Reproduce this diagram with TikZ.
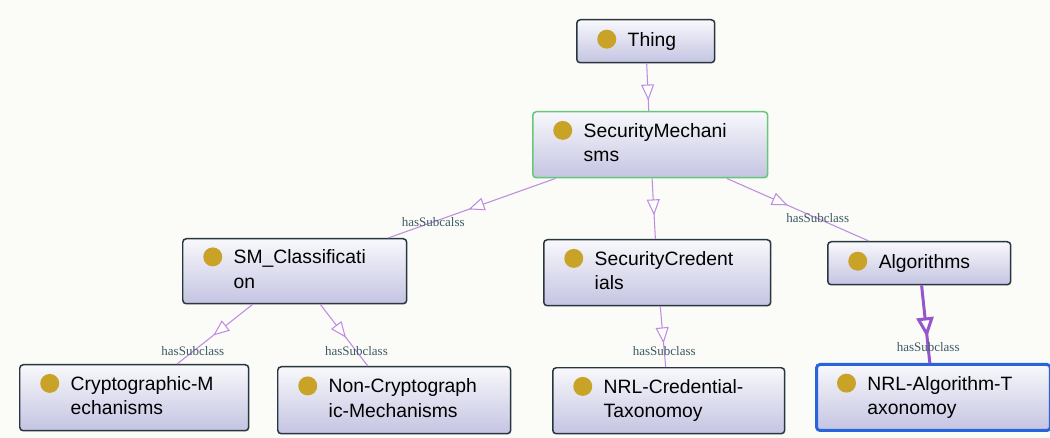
\documentclass[tikz,border=0pt]{standalone}
\usepackage{fontspec}
\usepackage{tikz}
\usetikzlibrary{arrows.meta,decorations.markings}

\newfontfamily\clsfont{Liberation Sans}
\newfontfamily\lblfont{Liberation Serif}

\definecolor{bgcol}{RGB}{251,251,248}
\definecolor{boxline}{RGB}{40,55,62}
\definecolor{boxtop}{RGB}{248,248,252}
\definecolor{boxbot}{RGB}{196,196,226}
\definecolor{dotcol}{RGB}{201,162,40}
\definecolor{edgecol}{RGB}{190,140,225}
\definecolor{edgedark}{RGB}{150,85,205}
\definecolor{lblcol}{RGB}{60,90,100}
\definecolor{selgreen}{RGB}{100,200,120}
\definecolor{selblue}{RGB}{40,100,220}

\newcommand\clsdot{\tikz[baseline=-0.36em]\fill[dotcol] (0,0) circle (0.19cm);}
\newcommand\clstext[1]{\hspace*{0.41cm}\clsdot\hspace{0.23cm}\begin{tabular}[t]{@{}l@{}}#1\end{tabular}}

\tikzset{
  cls/.style={draw=boxline, line width=0.85pt, rounded corners=2pt,
    top color=boxtop, bottom color=boxbot, anchor=north west,
    inner xsep=0pt, inner ysep=0pt, align=left,
    font=\clsfont\fontsize{11}{14}\selectfont},
  sub/.style={draw=edgecol, line width=0.6pt},
  lbl/.style={font=\lblfont\fontsize{7.4}{8}\selectfont, text=lblcol, inner sep=0pt},
  subtip/.style={postaction={decorate, decoration={markings,
    mark=at position #1 with {\arrow{Triangle[width=0.26cm, length=0.32cm, fill=white]}}}}},
  bigtip/.style={postaction={decorate, decoration={markings,
    mark=at position #1 with {\arrow{Triangle[width=0.34cm, length=0.4cm, fill=white]}}}}}
}

\begin{document}
\begin{tikzpicture}[x=0.02cm, y=-0.02cm]
        \useasboundingbox (0,0) rectangle (1050,438);
        \fill[bgcol] (0,0) rectangle (1050,438);

        \node[cls, text width=2.76cm, minimum height=0.86cm] (thing) at (576,19) {\clstext{Thing}};
        \node[cls, draw=selgreen, text width=4.7cm, minimum height=1.32cm] (secmech) at (532,111) {\clstext{SecurityMechani\\sms}};
        \node[cls, text width=4.48cm, minimum height=1.3cm] (smclass) at (182,238) {\clstext{SM\_Classificati\\on}};
        \node[cls, text width=4.54cm, minimum height=1.32cm] (seccred) at (543,239) {\clstext{SecurityCredent\\ials}};
        \node[cls, text width=3.66cm, minimum height=0.86cm] (algo) at (827,241) {\clstext{Algorithms}};
        \node[cls, text width=4.58cm, minimum height=1.32cm] (crypto) at (19,364) {\clstext{Cryptographic-M\\echanisms}};
        \node[cls, text width=4.66cm, minimum height=1.34cm] (noncrypto) at (277,366) {\clstext{Non-Cryptograph\\ic-Mechanisms}};
        \node[cls, text width=4.64cm, minimum height=1.32cm] (nrlcred) at (552,367) {\clstext{NRL-Credential-\\Taxonomoy}};
        \node[cls, draw=selblue, line width=1.7pt, text width=4.68cm, minimum height=1.32cm] (nrlalgo) at (815,363) {\clstext{NRL-Algorithm-T\\axonomoy}};

        \draw[sub, subtip=0.78] (thing) -- (secmech);
        \draw[sub, subtip=0.52] (secmech) -- node[lbl, pos=0.73] (lbclass) {hasSubcalss} (smclass);
        \draw[sub, subtip=0.61] (secmech) -- (seccred);
        \draw[sub, subtip=0.43] (secmech) -- node[lbl, pos=0.64] (lbalgo) {hasSubclass} (algo);
        \draw[sub, subtip=0.52] (smclass) -- node[lbl, pos=0.79] (lbcrypto) {hasSubclass} (crypto);
        \draw[sub, subtip=0.54] (smclass) -- node[lbl, pos=0.76] (lbnon) {hasSubclass} (noncrypto);
        \draw[sub, subtip=0.61] (seccred) -- node[lbl, pos=0.74] (lbcred) {hasSubclass} (nrlcred);
        \draw[sub, draw=edgedark, line width=1.7pt, bigtip=0.67] (algo) -- node[lbl, pos=0.8] (lbnrl) {hasSubclass} (nrlalgo);
\end{tikzpicture}
\end{document}
